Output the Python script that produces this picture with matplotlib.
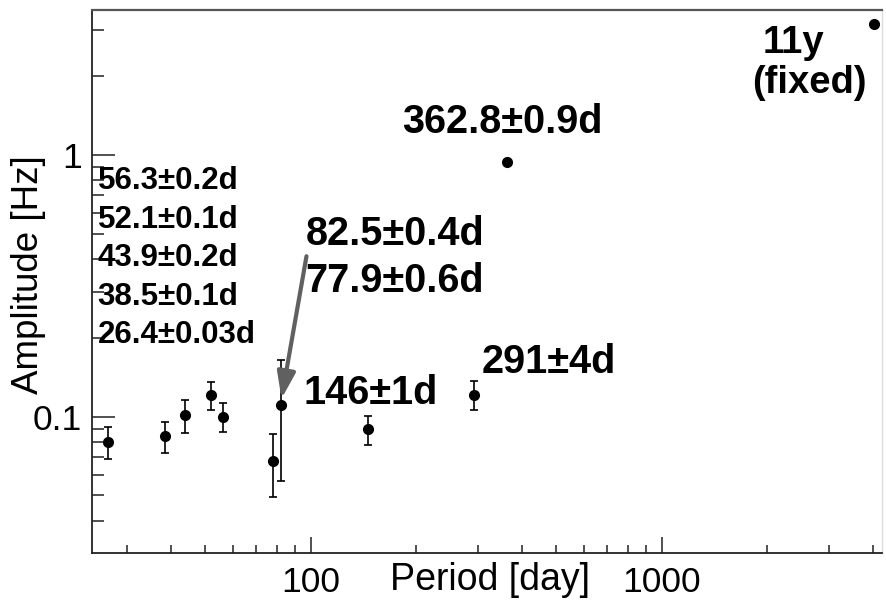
import matplotlib
matplotlib.use("Agg")
import matplotlib.pyplot as plt
from matplotlib.ticker import LogLocator, NullFormatter, FixedLocator, FixedFormatter
import numpy as np

plt.rcParams['font.family'] = ['Liberation Sans', 'DejaVu Sans']

# ---- data ----
periods = [26.4, 38.5, 43.9, 52.1, 56.3, 77.9, 82.5, 146, 291, 362.8, 4018]
amplitudes = [0.080, 0.084, 0.101, 0.1207, 0.100, 0.0677, 0.1108, 0.0895, 0.121, 0.943, 3.17]
amp_err = [0.011, 0.0115, 0.0143, 0.0143, 0.013, 0.0183, 0.054, 0.0113, 0.0152, 0.0, 0.0]

left_labels = ["56.3\u00b10.2d", "52.1\u00b10.1d", "43.9\u00b10.2d", "38.5\u00b10.1d", "26.4\u00b10.03d"]
x_tick_values = [100, 1000]
x_tick_labels = ["100", "1000"]
y_tick_values = [0.1, 1]
y_tick_labels = ["0.1", "1"]

fig = plt.figure(figsize=(8.87, 6.0), dpi=100)
ax = fig.add_axes([92/887, 47/600, 790/887, 543/600])

ax.set_xscale('log')
ax.set_yscale('log')
ax.set_xlim(23.8, 4240)
ax.set_ylim(0.0301, 3.58)

ax.errorbar(periods, amplitudes, yerr=amp_err, fmt='o', color='black',
            markersize=7, elinewidth=1.2, capsize=2.8, capthick=1.2, ecolor='black')

# ticks
ax.xaxis.set_major_locator(FixedLocator(x_tick_values))
ax.xaxis.set_major_formatter(FixedFormatter(x_tick_labels))
ax.xaxis.set_minor_locator(LogLocator(base=10, subs=np.arange(2, 10)))
ax.xaxis.set_minor_formatter(NullFormatter())
ax.yaxis.set_major_locator(FixedLocator(y_tick_values))
ax.yaxis.set_major_formatter(FixedFormatter(y_tick_labels))
ax.yaxis.set_minor_locator(LogLocator(base=10, subs=np.arange(2, 10)))
ax.yaxis.set_minor_formatter(NullFormatter())

ax.tick_params(axis='both', which='both', direction='in', top=False, right=False,
               color='#222222', width=1.1)
ax.tick_params(axis='x', which='major', length=11.5, pad=9, labelsize=25.5)
ax.tick_params(axis='x', which='minor', length=5.8)
ax.tick_params(axis='y', which='major', length=16.5, pad=7, labelsize=25.5)
ax.tick_params(axis='y', which='minor', length=8.6)

for s in ['left', 'bottom']:
    ax.spines[s].set_color('#222222')
    ax.spines[s].set_linewidth(1.3)
ax.spines['top'].set_color('#555555')
ax.spines['top'].set_linewidth(1.6)
ax.spines['right'].set_color('#dddddd')
ax.spines['right'].set_linewidth(1.0)

ax.set_xlabel("Period [day]", fontsize=27)
ax.xaxis.label.set_va('baseline')
ax.xaxis.set_label_coords(0.504, -0.0681)
ax.set_ylabel("Amplitude [Hz]", fontsize=26.5)
ax.yaxis.label.set_va('center')
ax.yaxis.set_label_coords(-0.081, 0.512)

# left-hand stacked labels
left_y = [0.670, 0.599, 0.5285, 0.4576, 0.3867]
for lab, yy in zip(left_labels, left_y):
    ax.text(0.007, yy, lab, transform=ax.transAxes, fontsize=22.5,
            fontweight='bold', ha='left', va='baseline')

big = dict(transform=ax.transAxes, fontsize=28.5, fontweight='bold', ha='left', va='baseline')
ax.text(0.3924, 0.774, "362.8\u00b10.9d", **big)
ax.text(0.2703, 0.5672, "82.5\u00b10.4d", **big)
ax.text(0.2703, 0.4812, "77.9\u00b10.6d", **big)
ax.text(0.2677, 0.2744, "146\u00b11d", **big)
ax.text(0.4937, 0.331, "291\u00b14d", **big)
small = dict(transform=ax.transAxes, fontsize=27.5, fontweight='bold', ha='left', va='baseline')
ax.text(0.8494, 0.9203, "11y", **small)
ax.text(0.8354, 0.8466, "(fixed)", **small)

# arrow pointing to the 82.5 d component
ax.annotate("", xy=(82.5, 0.117), xytext=(97.2, 0.41),
            arrowprops=dict(arrowstyle='-|>,head_length=1.6,head_width=0.55',
                            color='#606060', lw=3, shrinkA=0, shrinkB=0))

fig.savefig("out.png", dpi=100, facecolor='white')
